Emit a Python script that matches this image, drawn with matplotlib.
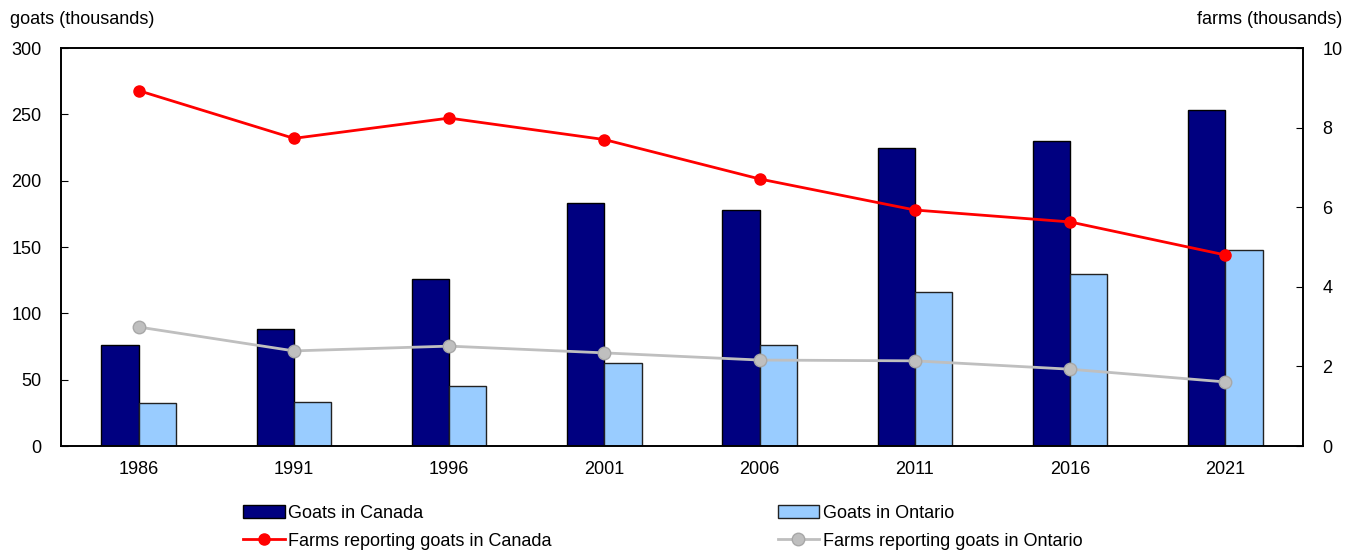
import matplotlib
matplotlib.use("Agg")
import matplotlib.pyplot as plt
import numpy as np

plt.rcParams["font.family"] = ["Liberation Sans", "DejaVu Sans"]
plt.rcParams["font.size"] = 13

years = ["1986", "1991", "1996", "2001", "2006", "2011", "2016", "2021"]
goats_canada = [76, 88, 126, 183, 178, 225, 230, 253]
goats_ontario = [32.5, 33.5, 45, 62.5, 76, 116, 130, 148]
farms_canada = [8.93, 7.73, 8.24, 7.70, 6.71, 5.93, 5.63, 4.80]
farms_ontario = [2.99, 2.39, 2.51, 2.34, 2.16, 2.14, 1.93, 1.61]

x = np.arange(len(years))
w = 0.24

fig = plt.figure(figsize=(13.59, 5.52), dpi=100)
ax = fig.add_axes([0.0449, 0.192, 0.9139, 0.721])
ax2 = ax.twinx()

b1 = ax.bar(x - w / 2, goats_canada, w, color="#000080", edgecolor="black", linewidth=1,
            label="Goats in Canada", zorder=2)
b2 = ax.bar(x + w / 2, goats_ontario, w, color="#99CCFF", edgecolor="#222222", linewidth=1,
            label="Goats in Ontario", zorder=2)

l1, = ax2.plot(x, farms_canada, color="#FF0000", linewidth=2, marker="o", markersize=8,
               label="Farms reporting goats in Canada")
l2, = ax2.plot(x, farms_ontario, color="#BFBFBF", linewidth=2, marker="o", markersize=9,
               markeredgecolor="#A8A8A8", markeredgewidth=1,
               label="Farms reporting goats in Ontario")

ax.set_xlim(-0.5, len(years) - 0.5)
ax.set_ylim(0, 300)
ax2.set_ylim(0, 10)
ax.set_yticks(np.arange(0, 301, 50))
ax2.set_yticks(np.arange(0, 11, 2))
ax.set_xticks(x)
ax.set_xticklabels(years)
ax.tick_params(axis="x", length=0, pad=11)
ax.tick_params(axis="y", direction="in", length=5, pad=14)
ax2.tick_params(axis="y", direction="in", length=5, pad=14)
for a in (ax, ax2):
    for s in a.spines.values():
        s.set_linewidth(1.2)
        s.set_color("black")

fig.text(0.007, 0.965, "goats (thousands)", ha="left", va="center")
fig.text(0.988, 0.965, "farms (thousands)", ha="right", va="center")

fig.legend([b1, l1, b2, l2],
           ["Goats in Canada", "Farms reporting goats in Canada",
            "Goats in Ontario", "Farms reporting goats in Ontario"],
           ncol=2, frameon=False, loc="upper left", bbox_to_anchor=(0.179, 0.086),
           handlelength=2.3, handletextpad=0.2, columnspacing=12.5,
           labelspacing=0.62, borderaxespad=0, borderpad=0)

fig.savefig("out.png", dpi=100)
